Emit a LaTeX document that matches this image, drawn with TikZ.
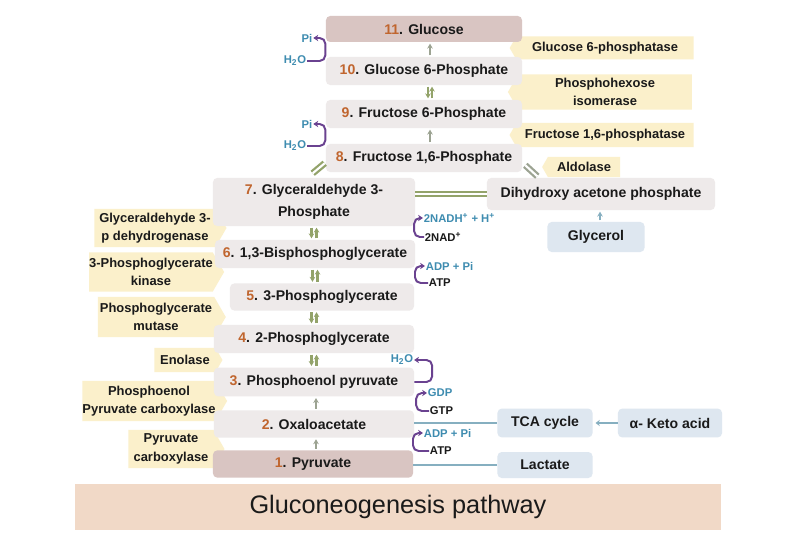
\documentclass[tikz,border=0pt]{standalone}
\usepackage{fontspec}
\setmainfont{Liberation Sans}
\usepackage{xcolor}
\usetikzlibrary{positioning, shapes.symbols, arrows.meta}
\definecolor{gnInk}{HTML}{1A1A1A}
\definecolor{gnNum}{HTML}{C0652E}
\definecolor{gnBox}{HTML}{EEEAEA}
\definecolor{gnEnd}{HTML}{D9C5C2}
\definecolor{gnTag}{HTML}{FBF0CB}
\definecolor{gnBlue}{HTML}{DEE7F0}
\definecolor{gnBand}{HTML}{F1D9C7}
\definecolor{gnOlive}{HTML}{93A36A}
\definecolor{gnArrow}{HTML}{9CA392}
\definecolor{gnPurple}{HTML}{6A4290}
\definecolor{gnTeal}{HTML}{3E8CB0}
\definecolor{gnLine}{HTML}{86AFC0}
\newcommand{\molno}[1]{\textcolor{gnNum}{#1}}

\begin{document}
\begin{tikzpicture}[x=0.025cm, y=-0.025cm,
  mol/.style={fill=gnBox, rounded corners=3pt, inner sep=0pt, align=center,
              text=gnInk, font=\fontsize{10}{12}\selectfont\bfseries},
  endmol/.style={mol, fill=gnEnd},
  sidemol/.style={mol, fill=gnBlue},
  enz/.style={signal, signal pointer angle=120, fill=gnTag, inner sep=0pt,
              align=center, text=gnInk, font=\fontsize{9.2}{13}\selectfont\bfseries},
  enzL/.style={enz, signal to=east},
  enzR/.style={enz, signal to=west},
  cof/.style={inner sep=0.5pt, text=gnInk, font=\fontsize{8}{9}\selectfont\bfseries},
  irr/.style={-{Stealth[length=3.5pt, width=4pt]}, gnArrow, line width=1.5pt,
              shorten <=1pt, shorten >=1pt},
  rev/.style={irr, gnOlive},
  eq/.style={gnOlive, double, double distance=1.5pt, line width=1.6pt},
  turn/.style={-{Stealth[length=3.5pt, width=4.5pt]}, gnPurple, line width=1.4pt,
               rounded corners=4pt},
  link/.style={gnLine, line width=1.6pt}]

  \useasboundingbox[fill=white] (0,0) rectangle (800,550);

  % enzymes
  \node[enzR, minimum width=4.6cm, minimum height=0.575cm] (g6pase) at (605,48) {Glucose 6-phosphatase};
  \node[enzR, minimum width=4.6cm, minimum height=0.875cm] (phi) at (605,92) {Phosphohexose\\isomerase};
  \node[enzR, minimum width=4.6cm, minimum height=0.6cm] (fbpase) at (605,135) {Fructose 1,6-phosphatase};
  \node[enzR, minimum width=1.95cm, minimum height=0.5cm] (ald) at (584,167) {Aldolase};

  \node[enzL, minimum width=3.3cm, minimum height=0.95cm] (gapdh) at (155,228) {Glyceraldehyde 3-\\p dehydrogenase};
  \node[enzL, minimum width=3.35cm, minimum height=0.975cm] (pgk) at (151,272) {3-Phosphoglycerate\\kinase};
  \node[enzL, minimum width=3.2cm, minimum height=1.0cm] (pgm) at (156,317) {Phosphoglycerate\\mutase};
  \node[enzL, minimum width=1.7cm, minimum height=0.6cm] (eno) at (185,360) {Enolase};
  \node[enzL, minimum width=3.6cm, minimum height=1.0cm] (pepck) at (149,401) {Phosphoenol\\Pyruvate carboxylase};
  \node[enzL, minimum width=2.4cm, minimum height=0.95cm] (pc) at (171,449) {Pyruvate\\carboxylase};

  % metabolites
  \node[endmol, minimum width=4.9cm, minimum height=0.65cm] (glu) at (424,29) {\molno{11}. Glucose};
  \node[mol, minimum width=4.9cm, minimum height=0.7cm] (g6p) at (424,71) {\molno{10}. Glucose 6-Phosphate};
  \node[mol, minimum width=4.9cm, minimum height=0.7cm] (f6p) at (424,114) {\molno{9}. Fructose 6-Phosphate};
  \node[mol, minimum width=4.9cm, minimum height=0.7cm] (f16) at (424,158) {\molno{8}. Fructose 1,6-Phosphate};
  \node[mol, minimum width=5.05cm, minimum height=1.2cm] (g3p) at (314,202) {\molno{7}. Glyceraldehyde 3-\\[3.5pt]Phosphate};
  \node[mol, minimum width=5.0cm, minimum height=0.7cm] (bpg) at (315,254) {\molno{6}. 1,3-Bisphosphoglycerate};
  \node[mol, minimum width=4.6cm, minimum height=0.675cm] (pg3) at (322,297) {\molno{5}. 3-Phosphoglycerate};
  \node[mol, minimum width=5.0cm, minimum height=0.7cm] (pg2) at (314,339) {\molno{4}. 2-Phosphoglycerate};
  \node[mol, minimum width=5.0cm, minimum height=0.72cm] (pep) at (314,382) {\molno{3}. Phosphoenol pyruvate};
  \node[mol, minimum width=5.0cm, minimum height=0.68cm] (oaa) at (314,424) {\molno{2}. Oxaloacetate};
  \node[endmol, minimum width=5.0cm, minimum height=0.68cm] (pyr) at (313,464) {\molno{1}. Pyruvate};

  \node[mol, minimum width=5.7cm, minimum height=0.8cm] (dhap) at (601,194) {Dihydroxy acetone phosphate};
  \node[sidemol, minimum width=2.425cm, minimum height=0.75cm] (gly) at (596,237) {Glycerol};
  \node[sidemol, minimum width=2.375cm, minimum height=0.72cm] (tca) at (545,423) {TCA cycle};
  \node[sidemol, minimum width=2.6cm, minimum height=0.72cm] (aka) at (670,423) {α- Keto acid};
  \node[sidemol, minimum width=2.375cm, minimum height=0.65cm] (lac) at (545,465) {Lactate};

  \node[fill=gnBand, minimum width=16.125cm, minimum height=1.15cm, inner sep=0pt,
        text=gnInk, font=\fontsize{18}{20}\selectfont] (title) at (398,507) {Gluconeogenesis pathway};

  % steps
  \draw[irr] ([xshift=0.15cm]g6p.north) -- ([xshift=0.15cm]glu.south);
  \draw[rev] ([xshift=0.1cm]g6p.south) -- ([xshift=0.1cm]f6p.north);
  \draw[rev] ([xshift=0.2cm]f6p.north) -- ([xshift=0.2cm]g6p.south);
  \draw[irr] ([xshift=0.15cm]f16.north) -- ([xshift=0.15cm]f6p.south);
  \draw[eq] ([xshift=-0.325cm, yshift=-0.025cm]f16.south west) -- ([xshift=-0.025cm, yshift=0.225cm]f16.south west);
  \draw[eq, gnArrow] ([xshift=0.075cm, yshift=0.175cm]f16.south east) -- ([xshift=0.375cm, yshift=-0.1cm]f16.south east);
  \draw[eq] (dhap.west -| g3p.east) -- (dhap.west);
  \draw[irr, gnLine] ([xshift=0.1cm]gly.north) -- ([xshift=0.1cm]gly.north |- dhap.south);

  \draw[rev] ([xshift=-1.8pt]g3p.south) -- ([xshift=-1.8pt]g3p.south |- bpg.north);
  \draw[rev] ([xshift=1.8pt]g3p.south |- bpg.north) -- ([xshift=1.8pt]g3p.south);
  \draw[rev] ([xshift=-1.8pt]bpg.south) -- ([xshift=-1.8pt]bpg.south |- pg3.north);
  \draw[rev] ([xshift=1.8pt]bpg.south |- pg3.north) -- ([xshift=1.8pt]bpg.south);
  \draw[rev] ([xshift=-1.8pt]pg2.north |- pg3.south) -- ([xshift=-1.8pt]pg2.north);
  \draw[rev] ([xshift=1.8pt]pg2.north) -- ([xshift=1.8pt]pg2.north |- pg3.south);
  \draw[rev] ([xshift=-1.8pt]pg2.south) -- ([xshift=-1.8pt]pep.north);
  \draw[rev] ([xshift=1.8pt]pep.north) -- ([xshift=1.8pt]pg2.south);
  \draw[irr] ([xshift=0.05cm]oaa.north) -- ([xshift=0.05cm]pep.south);
  \draw[irr] ([xshift=0.075cm]pyr.north) -- ([xshift=0.075cm]pyr.north |- oaa.south);

  % side inputs
  \draw[link] (tca.west -| oaa.east) -- (tca.west);
  \draw[link, -{Stealth[length=3pt, width=4.5pt]}, shorten >=2pt] (aka.west) -- (tca.east);
  \draw[link] (lac.west) -- (lac.west -| pyr.east);

  % cofactors
  \node[cof, text=gnTeal] (piA) at (307,38) {Pi};
  \node[cof, text=gnTeal] (waterA) at (295,61) {H\textsubscript{2}O};
  \node[cof, text=gnTeal] (piB) at (307,124) {Pi};
  \node[cof, text=gnTeal] (waterB) at (295,146) {H\textsubscript{2}O};
  \node[cof, text=gnTeal, anchor=west] (nadh) at (423,218) {2NADH\textsuperscript{+} + H\textsuperscript{+}};
  \node[cof, anchor=west] (nad) at (424,237) {2NAD\textsuperscript{+}};
  \node[cof, text=gnTeal, anchor=west] (adpA) at (425,266) {ADP + Pi};
  \node[cof, anchor=west] (atpA) at (428,283) {ATP};
  \node[cof, text=gnTeal] (waterC) at (402,360) {H\textsubscript{2}O};
  \node[cof, text=gnTeal, anchor=west] (gdp) at (427,393) {GDP};
  \node[cof, anchor=west] (gtp) at (429,411) {GTP};
  \node[cof, text=gnTeal, anchor=west] (adpB) at (423,433) {ADP + Pi};
  \node[cof, anchor=west] (atpB) at (429,451) {ATP};

  \draw[turn] (waterA.east) -| ([xshift=0.3cm]piA.east) -- (piA.east);
  \draw[turn] (waterB.east) -| ([xshift=0.3cm]piB.east) -- (piB.east);
  \draw[turn] (nad.west) -| ([xshift=-0.22cm]nadh.west) -- (nadh.west);
  \draw[turn] (atpA.west) -| ([xshift=-0.25cm]adpA.west) -- (adpA.west);
  \draw[turn] (pep.east) -| ([xshift=0.45cm]waterC.east) -- (waterC.east);
  \draw[turn] (gtp.west) -| ([xshift=-0.27cm]gdp.west) -- (gdp.west);
  \draw[turn] (atpB.west) -| ([xshift=-0.25cm]adpB.west) -- (adpB.west);
\end{tikzpicture}
\end{document}
